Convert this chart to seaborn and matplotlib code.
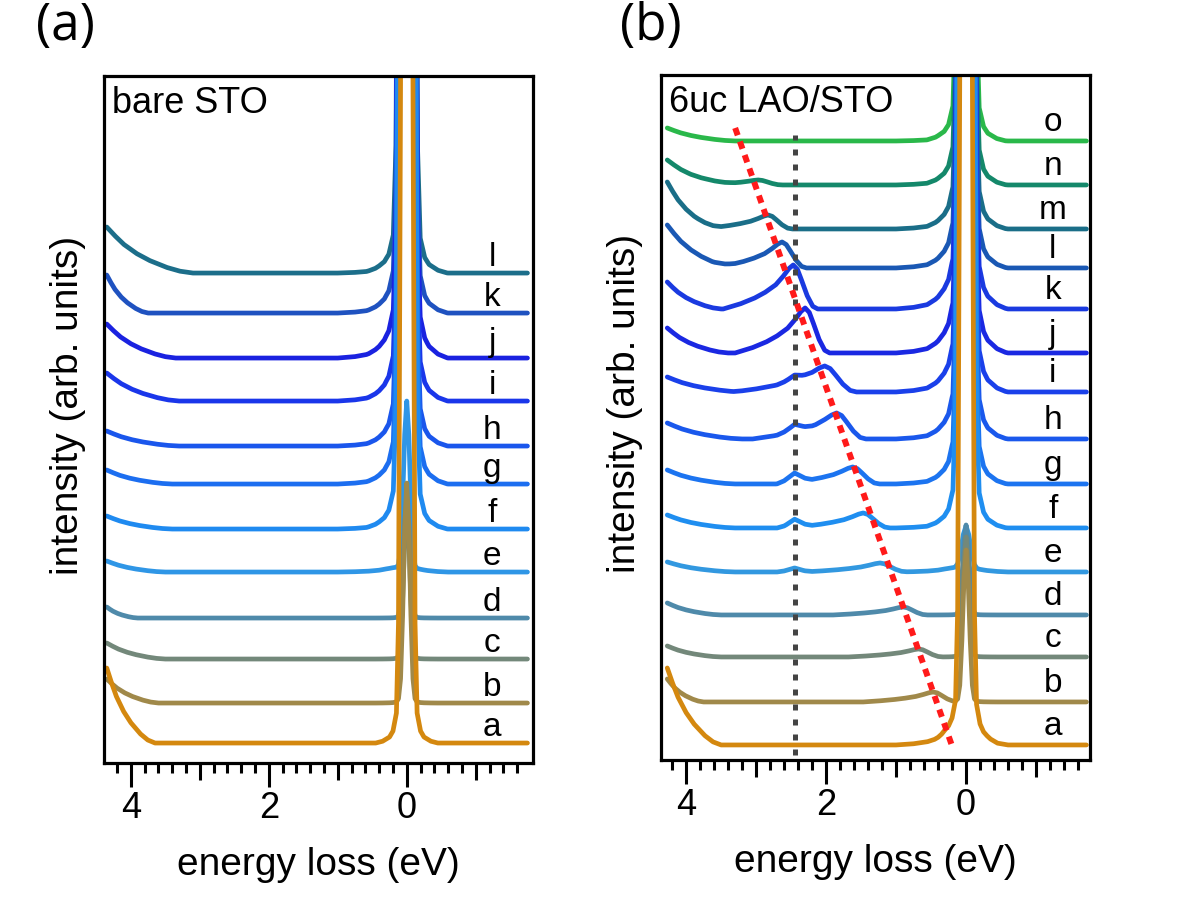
import numpy as np
import pandas as pd
import matplotlib
matplotlib.use("Agg")
import matplotlib.pyplot as plt
from matplotlib.ticker import FixedLocator, FixedFormatter
import seaborn as sns

sns.set_theme(style="ticks")
plt.rcParams['font.family'] = ['Liberation Sans', 'DejaVu Sans']
plt.rcParams['text.color'] = 'black'
plt.rcParams['axes.labelcolor'] = 'black'
plt.rcParams['xtick.color'] = 'black'

# ---------------- panel (a): bare STO ----------------
labels_a = list("abcdefghijkl")
colors_a = ['#d4880f', '#a0894a', '#73887a', '#4f8aaa', '#2f96e6', '#1f8af0',
            '#1c6ef0', '#1a56ec', '#1a36ea', '#1a22e0', '#1f52c0', '#1c6e8a']
base_a = [20, 60, 104, 145, 191, 234, 279, 317, 362, 405, 450, 490]        # baseline level
rise_a = [75, 24, 16, 11, 11, 13, 14, 15, 28, 34, 38, 46]                  # height at high-loss edge
rise_end_a = [3.65, 3.6, 3.5, 3.9, 3.5, 3.4, 3.4, 3.3, 3.3, 3.35, 3.75, 3.1]
elastic_a = [6000, 220, 150, 120, 167, 6000, 6000, 6000, 6000, 6000, 6000, 6000]
elastic_w_a = [1.0, 1.0, 1.0, 1.0, 1.0, 1.3, 1.3, 1.3, 1.3, 1.3, 1.3, 1.3]
shoulder_a = [0, 0, 0, 0, 4, 8, 12, 12, 15, 18, 12, 8]

# ---------------- panel (b): 6uc LAO/STO ----------------
labels_b = list("abcdefghijklmno")
colors_b = ['#d4880f', '#a0894a', '#73887a', '#4f8aaa', '#3298e0', '#1f8ef0',
            '#1c74f0', '#1a58ec', '#1a40ea', '#1a28e2', '#1a3ae0', '#1a58b4',
            '#1a6e88', '#14886a', '#2ab84a']
base_b = [15, 58, 103, 145, 188, 232, 276, 321, 368, 407, 451, 492, 531, 575, 619]
rise_b = [77, 23, 11, 12, 10, 13, 14, 16, 15, 25, 27, 43, 47, 25, 13]
rise_end_b = [3.5, 3.75, 3.5, 3.5, 3.3, 3.3, 3.3, 3.2, 3.2, 3.4, 3.5, 3.3, 3.5, 3.3, 3.3]
elastic_b = [6000, 152, 120, 90, 42, 6000, 6000, 6000, 6000, 6000, 6000, 6000, 6000, 6000, 6000]
elastic_w_b = [1.0, 1.0, 1.0, 1.0, 1.3, 1.25, 1.25, 1.25, 1.25, 1.25, 1.25, 1.25, 1.25, 1.25, 1.25]
shoulder_b = [15, 0, 0, 0, 4, 8, 12, 15, 18, 20, 20, 15, 12, 8, 5]
feat_pos_b = [0.0, 0.47, 0.68, 0.9, 1.23, 1.47, 1.62, 1.85, 2.02, 2.3, 2.47, 2.63, 2.83, 2.97, 0.0]
feat_h_b = [0, 10, 8, 8, 9, 15, 17, 26, 26, 45, 44, 26, 14, 5, 0]
feat_w_b = [1.0, 1.0, 1.0, 1.0, 1.1, 1.1, 1.1, 1.2, 1.3, 1.0, 1.0, 1.0, 1.0, 1.0, 1.0]
bump_b = [0, 0, 0, 0, 4, 8, 9, 7, 5, 0, 0, 0, 0, 0, 0]
bump_pos_b = 2.45

# shared line shapes
rise_frac = [0.0, 0.1, 0.2, 0.35, 0.5, 0.7, 0.85, 1.0]
rise_rel = [1.0, 0.8, 0.62, 0.42, 0.27, 0.12, 0.04, 0.0]
elastic_dx = [-0.45, -0.35, -0.25, -0.2, -0.15, -0.12, -0.09, -0.06, -0.03, 0.0,
              0.03, 0.06, 0.09, 0.12, 0.15, 0.2, 0.25, 0.35, 0.45]
elastic_rel = [0.0, 0.0003, 0.001, 0.002, 0.005, 0.02, 0.11, 0.4, 0.8, 1.0,
               0.8, 0.4, 0.11, 0.02, 0.005, 0.002, 0.001, 0.0003, 0.0]
shoulder_dx = [-0.6, -0.45, -0.3, -0.2, 0.0, 0.2, 0.3, 0.4, 0.55, 0.75, 1.0]
shoulder_rel = [0.0, 0.12, 0.35, 0.6, 1.0, 1.0, 0.75, 0.45, 0.22, 0.08, 0.0]
feature_dx = [-0.35, -0.28, -0.2, -0.12, -0.06, 0.0, 0.06, 0.14, 0.25, 0.4, 0.55, 0.75, 1.0]
feature_rel = [0.0, 0.06, 0.3, 0.65, 0.9, 1.0, 0.92, 0.75, 0.55, 0.38, 0.25, 0.12, 0.0]
bump_dx = [-0.25, -0.15, -0.07, 0.0, 0.07, 0.15, 0.25]
bump_rel = [0.0, 0.25, 0.65, 1.0, 0.65, 0.25, 0.0]

# guide lines in panel (b)
guide_black_x = [2.45, 2.45]
guide_black_y = [5, 625]
guide_red_x = [3.30, 0.19]
guide_red_y = [632, 12]


def component(E, center, width, dx, rel, height):
    xs = center + width * np.asarray(dx)
    return height * np.interp(E, xs, rel, left=0.0, right=0.0)


def build(e_start, e_end, base, rise, rise_end, el_h, el_w, sh_h,
          f_pos=0.0, f_h=0.0, f_w=1.0, b_h=0.0):
    rise_x = e_start - np.asarray(rise_frac) * (e_start - rise_end)
    knots = [e_start, e_end] + list(rise_x)
    knots += list(el_w * np.asarray(elastic_dx)) + list(np.asarray(shoulder_dx))
    if f_h:
        knots += list(f_pos + f_w * np.asarray(feature_dx))
    if b_h:
        knots += list(bump_pos_b + np.asarray(bump_dx))
    E = np.unique([k for k in knots if e_end <= k <= e_start])
    I = base + rise * np.interp(E, rise_x[::-1], rise_rel[::-1], left=0.0, right=1.0)
    I = I + component(E, 0.0, el_w, elastic_dx, elastic_rel, el_h)
    I = I + component(E, 0.0, 1.0, shoulder_dx, shoulder_rel, sh_h)
    if f_h:
        I = I + component(E, f_pos, f_w, feature_dx, feature_rel, f_h)
    if b_h:
        I = I + component(E, bump_pos_b, 1.0, bump_dx, bump_rel, b_h)
    return E, I


rows = []
for i, lab in enumerate(labels_a):
    E, I = build(4.35, -1.75, base_a[i], rise_a[i], rise_end_a[i],
                 elastic_a[i], elastic_w_a[i], shoulder_a[i])
    rows.append(pd.DataFrame({'energy': E, 'intensity': I, 'spectrum': lab}))
df_a = pd.concat(rows, ignore_index=True)

rows = []
for i, lab in enumerate(labels_b):
    E, I = build(4.27, -1.72, base_b[i], rise_b[i], rise_end_b[i],
                 elastic_b[i], elastic_w_b[i], shoulder_b[i],
                 feat_pos_b[i], feat_h_b[i], feat_w_b[i], bump_b[i])
    rows.append(pd.DataFrame({'energy': E, 'intensity': I, 'spectrum': lab}))
df_b = pd.concat(rows, ignore_index=True)

fig = plt.figure(figsize=(11.82, 9.0), dpi=100)
ax_a = fig.add_axes([0.0880, 0.1522, 0.3629, 0.7633])
ax_b = fig.add_axes([0.5592, 0.1556, 0.3629, 0.7611])

panels = [
    (ax_a, df_a, labels_a, colors_a, base_a, (4.39, -1.83), 687, 'bare STO', '(a)', 36, 7),
    (ax_b, df_b, labels_b, colors_b, base_b, (4.36, -1.77), 685, '6uc LAO/STO', '(b)', 620, 10),
]

for ax, df, labs, cols, base, xlim, ytop, title, tag, tag_x, lab_off in panels:
    sns.lineplot(data=df, x='energy', y='intensity', hue='spectrum',
                 hue_order=labs[::-1], palette=dict(zip(labs, cols)),
                 estimator=None, legend=False, linewidth=3.4, ax=ax)
    ax.set_xlim(*xlim)
    ax.set_ylim(0, ytop)
    for lab, b in zip(labs, base):
        ax.text(-1.24, b + lab_off, lab, ha='center', va='baseline', fontsize=24)
    ax.text(0.018, 0.985, title, transform=ax.transAxes, ha='left', va='top', fontsize=26)
    fig.text(tag_x / 1182, 0.999, tag, ha='left', va='top', fontsize=37,
             family=['Open Sans', 'DejaVu Sans'])

    for s in ax.spines.values():
        s.set_linewidth(2.3)
        s.set_color('black')
    ax.set_yticks([])
    ax.xaxis.set_major_locator(FixedLocator([4, 3, 2, 1, 0, -1]))
    ax.xaxis.set_major_formatter(FixedFormatter(['4', '', '2', '', '0', '']))
    ax.xaxis.set_minor_locator(FixedLocator(
        [v for v in np.round(np.arange(-1.6, 4.21, 0.2), 1) if abs(v - round(v)) > 1e-6]))
    ax.tick_params(axis='x', which='major', direction='out', length=17, width=2.2,
                   labelsize=26, pad=3, color='black')
    ax.tick_params(axis='x', which='minor', direction='out', length=7, width=2.2,
                   color='black', bottom=True)
    for t, v in zip(ax.xaxis.get_major_ticks(), [4, 3, 2, 1, 0, -1]):
        if v % 2:
            t.tick1line.set_markersize(12)
    ax.set_xlabel('energy loss (eV)', fontsize=28, labelpad=15)
    ax.set_ylabel('intensity (arb. units)', fontsize=28)
    ax.yaxis.set_label_coords(-0.042, 0.52)

ax_b.plot(guide_black_x, guide_black_y, color='#444444', lw=3.6,
          linestyle=(0, (1.2, 1.8)), dash_capstyle='butt', zorder=5)
ax_b.plot(guide_red_x, guide_red_y, color='#ff1a1a', lw=4.3,
          linestyle=(0, (1.3, 1.1)), dash_capstyle='butt', zorder=6)

fig.savefig('out.png', dpi=100, facecolor='white')
